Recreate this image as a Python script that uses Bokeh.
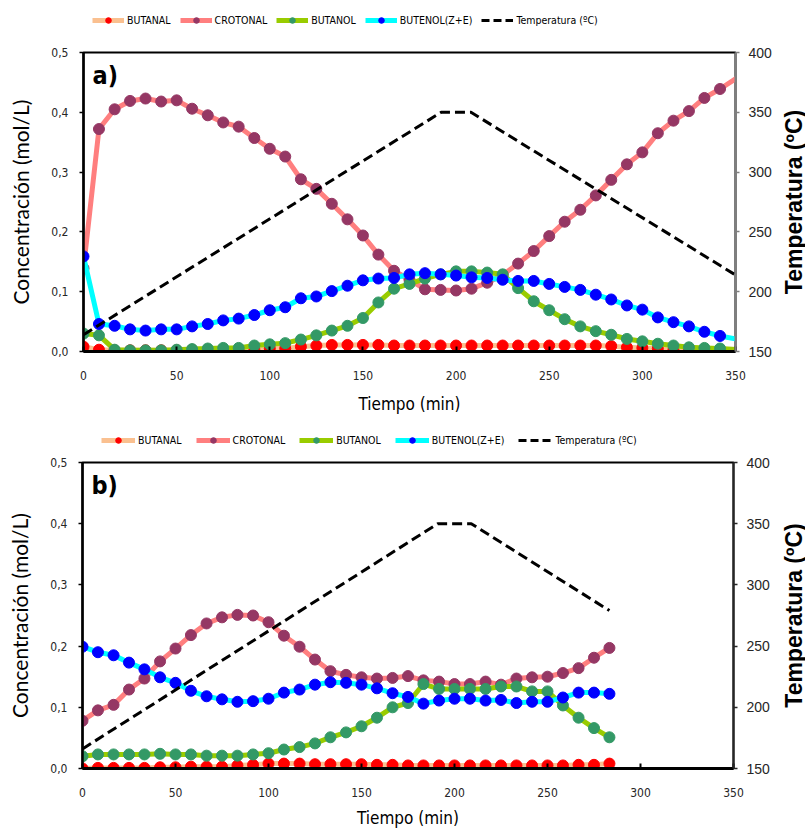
import math
from bokeh.plotting import figure
from bokeh.models import (LinearAxis, Range1d, Legend, LegendItem, Label,
                          CustomJSTickFormatter, FixedTicker, ColumnDataSource)
from bokeh.layouts import column, row
from bokeh.embed import file_html
from bokeh.resources import INLINE

# ---------------- data : panel a ----------------
t_a = [0, 8.3, 16.7, 25, 33.3, 41.7, 50, 58.3, 66.7, 75, 83.3, 91.7, 100, 108.3,
       116.7, 125, 133.3, 141.7, 150, 158.3, 166.7, 175, 183.3, 191.7, 200, 208.3,
       216.7, 225, 233.3, 241.7, 250, 258.3, 266.7, 275, 283.3, 291.7, 300, 308.3,
       316.7, 325, 333.3, 341.7, 358.3]
butanal_a = [0.008, 0.003, 0.002, 0.002, 0.002, 0.002, 0.002, 0.003, 0.003, 0.004,
             0.004, 0.004, 0.005, 0.005, 0.008, 0.010, 0.011, 0.011, 0.011, 0.011,
             0.010, 0.010, 0.010, 0.010, 0.010, 0.010, 0.010, 0.010, 0.010, 0.010,
             0.010, 0.010, 0.010, 0.010, 0.009, 0.007, 0.006, 0.005, 0.003, 0.003,
             0.002, 0.002, 0.001]
crotonal_a = [0.139, 0.372, 0.405, 0.419, 0.423, 0.418, 0.420, 0.406, 0.395, 0.383,
              0.376, 0.357, 0.339, 0.326, 0.288, 0.272, 0.247, 0.221, 0.194, 0.162,
              0.135, 0.120, 0.104, 0.103, 0.102, 0.105, 0.115, 0.128, 0.147, 0.168,
              0.193, 0.217, 0.237, 0.261, 0.287, 0.313, 0.333, 0.365, 0.386, 0.402,
              0.424, 0.439, 0.473]
butanol_a = [0.030, 0.027, 0.003, 0.002, 0.002, 0.002, 0.003, 0.004, 0.005, 0.006,
             0.006, 0.010, 0.012, 0.014, 0.020, 0.027, 0.035, 0.043, 0.056, 0.082,
             0.105, 0.113, 0.122, 0.129, 0.134, 0.134, 0.132, 0.129, 0.106, 0.084,
             0.069, 0.054, 0.042, 0.034, 0.028, 0.021, 0.017, 0.013, 0.010, 0.007,
             0.006, 0.005, 0.002]
butenol_a = [0.159, 0.046, 0.043, 0.037, 0.035, 0.037, 0.037, 0.042, 0.046, 0.052,
             0.055, 0.061, 0.069, 0.074, 0.089, 0.092, 0.101, 0.110, 0.119, 0.122,
             0.123, 0.129, 0.131, 0.129, 0.127, 0.124, 0.123, 0.120, 0.118, 0.118,
             0.113, 0.108, 0.103, 0.095, 0.087, 0.077, 0.070, 0.057, 0.049, 0.042,
             0.033, 0.026, 0.016]
temp_t_a = [0, 192, 208, 350]
temp_a = [164, 350, 350, 214]

# ---------------- data : panel b ----------------
t_b = [0, 8.3, 16.7, 25, 33.3, 41.7, 50, 58.3, 66.7, 75, 83.3, 91.7, 100, 108.3,
       116.7, 125, 133.3, 141.7, 150, 158.3, 166.7, 175, 183.3, 191.7, 200, 208.3,
       216.7, 225, 233.3, 241.7, 250, 258.3, 266.7, 275, 283.3]
butanal_b = [0.000, 0.001, 0.001, 0.001, 0.001, 0.002, 0.002, 0.003, 0.003, 0.003,
             0.005, 0.006, 0.008, 0.008, 0.008, 0.007, 0.007, 0.007, 0.007, 0.006,
             0.006, 0.005, 0.005, 0.005, 0.005, 0.005, 0.005, 0.005, 0.005, 0.005,
             0.005, 0.005, 0.006, 0.006, 0.008]
crotonal_b = [0.078, 0.095, 0.104, 0.129, 0.147, 0.175, 0.196, 0.218, 0.237, 0.247,
              0.251, 0.250, 0.239, 0.217, 0.199, 0.178, 0.159, 0.153, 0.149, 0.147,
              0.148, 0.151, 0.144, 0.142, 0.138, 0.138, 0.142, 0.137, 0.147, 0.149,
              0.150, 0.156, 0.164, 0.181, 0.197]
butanol_b = [0.020, 0.023, 0.023, 0.023, 0.023, 0.024, 0.023, 0.023, 0.021, 0.021,
             0.021, 0.023, 0.025, 0.031, 0.035, 0.041, 0.051, 0.059, 0.069, 0.083,
             0.100, 0.107, 0.138, 0.130, 0.130, 0.130, 0.130, 0.134, 0.134, 0.126,
             0.126, 0.103, 0.083, 0.066, 0.051]
butenol_b = [0.199, 0.190, 0.185, 0.173, 0.162, 0.149, 0.140, 0.127, 0.118, 0.113,
             0.109, 0.110, 0.114, 0.124, 0.129, 0.137, 0.141, 0.140, 0.137, 0.131,
             0.123, 0.117, 0.106, 0.111, 0.114, 0.114, 0.111, 0.112, 0.107, 0.109,
             0.109, 0.116, 0.124, 0.124, 0.122]
temp_t_b = [0, 191, 209, 283.3]
temp_b = [166, 350, 350, 279]

conc_ticks = [0, 0.1, 0.2, 0.3, 0.4, 0.5]
temp_ticks = [150, 200, 250, 300, 350, 400]
time_ticks = [0, 50, 100, 150, 200, 250, 300, 350]

series_names = ["BUTANAL", "CROTONAL", "BUTANOL", "BUTENOL(Z+E)"]
temp_name = "Temperatura (ºC)"
line_colors = ["#FAC090", "#FF7F7F", "#99CC00", "#00FFFF"]
marker_colors = ["#FF0000", "#953764", "#339966", "#0000FF"]

COND = "DejaVu Sans Condensed, DejaVu Sans, sans-serif"
ARIAL = "Liberation Sans, Arial, sans-serif"
PANEL_W = 775
RLAB_W = 30
W = PANEL_W + RLAB_W


def make_legend_fig(height, lx, ly, glyph_w, spacing, t, series, temp_t, temp_v):
    # the series are drawn outside the visible x range; only the legend shows
    f = figure(width=W, height=height, x_range=Range1d(1000, 1001), y_range=Range1d(0, 1),
               output_backend="svg", toolbar_location=None, x_axis_type=None,
               y_axis_type=None, min_border=0)
    f.grid.visible = False
    f.outline_line_color = None
    items = []
    for name, vals, lc, mc in zip(series_names, series, line_colors, marker_colors):
        lr = f.line(t, vals, line_color=lc, line_width=5)
        sr = f.scatter(t, vals, size=11, fill_color=mc, line_color=mc)
        items.append(LegendItem(label=name, renderers=[lr, sr]))
    tr = f.line(temp_t, temp_v, line_color="black", line_width=3, line_dash="8 4")
    items.append(LegendItem(label=temp_name, renderers=[tr]))
    leg = Legend(items=items, orientation="horizontal", location=(lx, ly),
                 glyph_width=glyph_w, glyph_height=14, label_standoff=3, spacing=spacing,
                 padding=0, margin=0, border_line_color=None,
                 background_fill_alpha=0, label_text_font=COND,
                 label_text_font_size="10.5px", label_text_color="black",
                 label_height=14)
    f.add_layout(leg, "center")
    return f


def make_panel(tag, t, series, temp_t, temp_v, height, bl, br, bt, bb, right_axis_color,
               xlab_standoff):
    p = figure(width=PANEL_W, height=height, x_range=Range1d(0, 350),
               y_range=Range1d(0, 0.5), output_backend="svg",
               toolbar_location=None, min_border_left=bl, min_border_right=br,
               min_border_top=bt, min_border_bottom=bb)
    p.extra_y_ranges = {"temp": Range1d(150, 400)}
    p.grid.visible = False
    p.outline_line_color = "black"
    p.outline_line_width = 2
    p.background_fill_color = "white"
    p.border_fill_color = "white"

    xa = p.xaxis[0]
    xa.ticker = FixedTicker(ticks=time_ticks)
    xa.axis_line_width = 3
    xa.axis_line_color = "black"
    xa.major_tick_in = 5
    xa.major_tick_out = 0
    xa.major_tick_line_width = 2
    xa.minor_tick_line_color = None
    xa.major_label_standoff = 19
    xa.major_label_text_font = COND
    xa.major_label_text_font_size = "12px"
    xa.major_label_text_color = "#262626"
    xa.axis_label = "Tiempo (min)"
    xa.axis_label_text_font = COND
    xa.axis_label_text_font_size = "17px"
    xa.axis_label_text_font_style = "normal"
    xa.axis_label_text_color = "black"
    xa.axis_label_standoff = xlab_standoff

    ya = p.yaxis[0]
    ya.ticker = FixedTicker(ticks=conc_ticks)
    ya.formatter = CustomJSTickFormatter(code="return tick.toFixed(1).replace('.', ',');")
    ya.axis_line_width = 2.5
    ya.axis_line_color = "black"
    ya.major_tick_in = 0
    ya.major_tick_out = 4
    ya.major_tick_line_width = 1.5
    ya.minor_tick_line_color = None
    ya.major_label_standoff = 11
    ya.major_label_text_font = COND
    ya.major_label_text_font_size = "12px"
    ya.major_label_text_color = "#262626"
    ya.axis_label = "Concentración (mol/L)"
    ya.axis_label_text_font = "Lato"
    ya.axis_label_text_font_size = "21px"
    ya.axis_label_text_font_style = "normal"
    ya.axis_label_text_color = "black"
    ya.axis_label_standoff = 15

    ra = LinearAxis(y_range_name="temp", ticker=FixedTicker(ticks=temp_ticks))
    ra.axis_line_width = 2
    ra.axis_line_color = right_axis_color
    ra.major_tick_in = 0
    ra.major_tick_out = 4
    ra.major_tick_line_color = right_axis_color
    ra.major_tick_line_width = 1.5
    ra.minor_tick_line_color = None
    ra.major_label_standoff = 9
    ra.major_label_text_font = ARIAL
    ra.major_label_text_font_size = "14px"
    ra.major_label_text_color = "#262626"
    p.add_layout(ra, "right")

    for name, vals, lc, mc in zip(series_names, series, line_colors, marker_colors):
        src = ColumnDataSource(dict(t=t, v=vals))
        vis = [(ti, vi) for ti, vi in zip(t, vals) if ti <= 350]
        msrc = ColumnDataSource(dict(t=[a for a, _ in vis], v=[b for _, b in vis]))
        p.line("t", "v", source=src, line_color=lc, line_width=5)
        p.scatter("t", "v", source=msrc, size=11, fill_color=mc, line_color=mc)
    p.line(temp_t, temp_v, y_range_name="temp", line_color="black",
           line_width=3, line_dash="10 5")

    data_h = height - bt - bb
    p.add_layout(Label(x=9, y=data_h - 8, x_units="screen", y_units="screen",
                       text=tag, text_font=COND, text_font_size="25px",
                       text_font_style="bold", text_baseline="top", text_color="black"))

    # right-hand axis title (reads bottom to top); its frame lines up with the panel's
    r = figure(width=RLAB_W, height=height, x_range=Range1d(0, 1), y_range=Range1d(0, 1),
               output_backend="svg", toolbar_location=None, x_axis_type=None,
               y_axis_type=None, min_border=0)
    r.grid.visible = False
    r.outline_line_color = None
    r.add_layout(Label(x=18, y=data_h / 2, x_units="screen",
                       y_units="screen", text=temp_name, angle=math.pi / 2,
                       text_align="center", text_baseline="middle", text_font=ARIAL,
                       text_font_size="23px", text_font_style="bold", text_color="black"))
    return row(p, r, spacing=0)


leg_a = make_legend_fig(42, 92, 15, 32, 9, t_a, [butanal_a, crotonal_a, butanol_a, butenol_a],
                        temp_t_a, temp_a)
pa = make_panel("a)", t_a, [butanal_a, crotonal_a, butanol_a, butenol_a], temp_t_a, temp_a,
                384, 83, 40, 10, 75, "#7f7f7f", 11)
leg_b = make_legend_fig(26, 101, 5, 34, 14, t_b, [butanal_b, crotonal_b, butanol_b, butenol_b],
                        temp_t_b, temp_b)
pb = make_panel("b)", t_b, [butanal_b, crotonal_b, butanol_b, butenol_b], temp_t_b, temp_b,
                378, 82, 42, 10, 62, "#262626", 8)

layout = column(leg_a, pa, leg_b, pb, spacing=0)
open("out.html", "w").write(file_html(layout, INLINE))
